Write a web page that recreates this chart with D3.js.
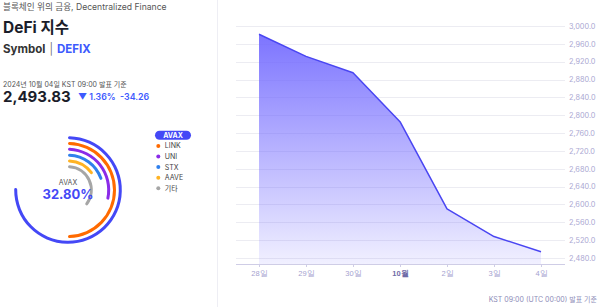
<!DOCTYPE html>
<html>
<head>
<meta charset="utf-8">
<script src="https://cdn.jsdelivr.net/npm/d3@7"></script>
<style>
  body { margin: 0; background: #fff; }
  svg { display: block; font-family: Inter, "Noto Sans CJK KR", sans-serif; }
</style>
</head>
<body>
<div id="chart"></div>
<script>
// index line (daily close)
const dates = ["2024-09-28", "2024-09-29", "2024-09-30", "2024-10-01", "2024-10-02", "2024-10-03", "2024-10-04"];
const values = [2981.4, 2932.0, 2895.3, 2785.5, 2590.0, 2528.09, 2493.83];
const yTicks = [2480, 2520, 2560, 2600, 2640, 2680, 2720, 2760, 2800, 2840, 2880, 2920, 2960, 3000];

// composition (radial bars)
const coins = ["AVAX", "LINK", "UNI", "STX", "AAVE", "기타"];
const shares = [32.80, 21.7, 12.5, 8.8, 6.8, 15.7];
const coinColors = ["#4448f6", "#ff6a00", "#8b2be8", "#2f80ed", "#ffb324", "#a6a6a6"];

const W = 600, H = 307;
const svg = d3.select("#chart").append("svg").attr("width", W).attr("height", H);

// divider
svg.append("line").attr("x1", 217.5).attr("x2", 217.5).attr("y1", 0).attr("y2", H)
  .attr("stroke", "#eeeef4");

// ---- left panel text ----
const left = svg.append("g");
left.append("text").attr("x", 3).attr("y", 10).attr("font-size", 8.6).attr("fill", "#555")
  .text("블록체인 위의 금융, Decentralized Finance");
left.append("text").attr("x", 3).attr("y", 33).attr("font-size", 15.5).attr("font-weight", 700)
  .attr("fill", "#1b1d2a").text("DeFi 지수");
const sym = left.append("text").attr("x", 3).attr("y", 53).attr("font-size", 11.5).attr("font-weight", 700);
sym.append("tspan").attr("fill", "#333").text("Symbol");
sym.append("tspan").attr("fill", "#555").attr("font-weight", 300).attr("dx", 4).text("|");
sym.append("tspan").attr("fill", "#3d5afe").attr("dx", 4).text("DEFIX");
left.append("text").attr("x", 3).attr("y", 86.5).attr("font-size", 7).attr("fill", "#555")
  .text("2024년 10월 04일 KST 09:00 발표 기준");
left.append("text").attr("x", 3).attr("y", 102).attr("font-size", 15).attr("font-weight", 700)
  .attr("fill", "#1b1d2a").text("2,493.83");
left.append("text").attr("x", 78).attr("y", 99.5).attr("font-size", 8.8).attr("font-weight", 600)
  .attr("fill", "#3d5afe").text("▼ 1.36%");
left.append("text").attr("x", 120).attr("y", 99.5).attr("font-size", 8.8).attr("font-weight", 600)
  .attr("fill", "#3d5afe").text("-34.26");

// ---- radial bars ----
const cx = 68, cy = 190;
const angle = d3.scaleLinear().domain([0, 43.4]).range([0, 2 * Math.PI]);
const radius = d3.scalePoint().domain(coins).range([52.3, 23.3]);
const arc = d3.arc()
  .innerRadius(d => radius(d.name) - 1.5)
  .outerRadius(d => radius(d.name) + 1.5)
  .startAngle(0)
  .endAngle(d => angle(d.value))
  .cornerRadius(1.5);

const rows = coins.map((c, i) => ({ name: c, value: shares[i], color: coinColors[i] }));
const donut = svg.append("g").attr("transform", `translate(${cx},${cy})`);
donut.selectAll("path").data(rows).enter().append("path")
  .attr("d", arc).attr("fill", d => d.color);
donut.append("text").attr("text-anchor", "middle").attr("y", -5).attr("font-size", 7)
  .attr("fill", "#555").text(coins[0]);
donut.append("text").attr("text-anchor", "middle").attr("y", 8.5).attr("font-size", 13)
  .attr("font-weight", 700).attr("fill", "#4448f6").text(shares[0].toFixed(2) + "%");

// legend
const legend = svg.append("g");
const ly = d3.scalePoint().domain(coins).range([135.3, 188.3]);
legend.append("rect").attr("x", 155).attr("y", ly(coins[0]) - 4.5).attr("width", 36).attr("height", 9)
  .attr("rx", 4.5).attr("fill", coinColors[0]);
legend.append("text").attr("x", 173).attr("y", ly(coins[0]) + 2.5).attr("text-anchor", "middle")
  .attr("font-size", 7).attr("font-weight", 700).attr("fill", "#fff").text(coins[0]);
const items = legend.selectAll("g.item").data(rows.slice(1)).enter().append("g").attr("class", "item")
  .attr("transform", d => `translate(158.3,${ly(d.name)})`);
items.append("circle").attr("r", 2).attr("fill", d => d.color);
items.append("text").attr("x", 6.5).attr("y", 2.5).attr("font-size", 7).attr("fill", "#444")
  .text(d => d.name);

// ---- line chart ----
const parse = d3.timeParse("%Y-%m-%d");
const series = dates.map((d, i) => ({ date: parse(d), value: values[i] }));
const plot = { left: 236, right: 565, top: 26, bottom: 264 };

const x = d3.scaleTime().domain(d3.extent(series, d => d.date)).range([259, 541]);
const y = d3.scaleLinear().domain([2466.5, 3000]).range([plot.bottom, plot.top]);

// grid
svg.append("g").selectAll("line").data(yTicks).enter().append("line")
  .attr("x1", plot.left).attr("x2", plot.right)
  .attr("y1", d => Math.round(y(d)) + 0.5).attr("y2", d => Math.round(y(d)) + 0.5)
  .attr("stroke", "#ececf2");

// y labels
svg.append("g").selectAll("text").data(yTicks).enter().append("text")
  .attr("x", 569).attr("y", d => y(d) + 2.8).attr("font-size", 7.3).attr("fill", "#aaa7d2")
  .text(d => d3.format(",.1f")(d));

const defs = svg.append("defs");
const grad = defs.append("linearGradient").attr("id", "fillGrad")
  .attr("x1", 0).attr("y1", 0).attr("x2", 0).attr("y2", 1);
grad.append("stop").attr("offset", "0%").attr("stop-color", "#7168ff").attr("stop-opacity", 0.92);
grad.append("stop").attr("offset", "100%").attr("stop-color", "#7168ff").attr("stop-opacity", 0.1);

const area = d3.area().x(d => x(d.date)).y0(plot.bottom).y1(d => y(d.value));
const line = d3.line().x(d => x(d.date)).y(d => y(d.value));

svg.append("path").datum(series).attr("d", area).attr("fill", "url(#fillGrad)");
svg.append("path").datum(series).attr("d", line).attr("fill", "none")
  .attr("stroke", "#4a46f2").attr("stroke-width", 1.5).attr("stroke-linejoin", "round");

// x axis
const fmt = d => d.getDate() === 1 ? (d.getMonth() + 1) + "월" : d.getDate() + "일";
const xAxis = svg.append("g").attr("transform", `translate(0,${plot.bottom})`)
  .call(d3.axisBottom(x).tickValues(series.map(d => d.date)).tickFormat(fmt).tickSize(3).tickSizeOuter(0));
xAxis.select(".domain").attr("d", `M${plot.left},0.5H${plot.right}`).attr("stroke", "#cfcde6");
xAxis.selectAll(".tick line").attr("stroke", "#cfcde6");
xAxis.selectAll(".tick text").attr("dy", "0.95em").attr("y", 4.5)
  .attr("font-size", 7.5).attr("font-family", null)
  .attr("fill", d => d.getDate() === 1 ? "#6f6ca8" : "#a5a2cf")
  .attr("font-weight", d => d.getDate() === 1 ? 700 : 400);

// footer
svg.append("text").attr("x", 597).attr("y", 302).attr("text-anchor", "end")
  .attr("font-size", 7).attr("fill", "#8e8cb8").text("KST 09:00 (UTC 00:00) 발표 기준");
</script>
</body>
</html>
